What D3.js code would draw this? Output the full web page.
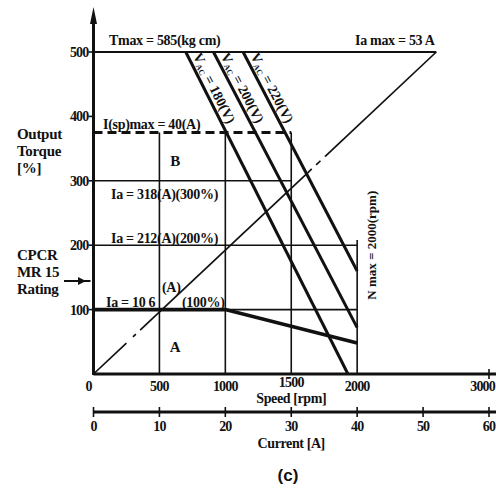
<!DOCTYPE html>
<html><head><meta charset="utf-8">
<script src="https://cdn.jsdelivr.net/npm/d3@7"></script>
<style>
html,body{margin:0;padding:0;background:#fff;}
svg text{font-family:"Liberation Serif","DejaVu Serif",serif;font-weight:bold;fill:#111;}
</style></head>
<body>
<div id="chart"></div>
<script>
// ---- data ----
const speedTicks = [0, 500, 1000, 1500, 2000, 3000];
const speedTickLabels = ["0", "500", "1000", "1500", "2000", "3000"];
const currentTicks = [0, 10, 20, 30, 40, 50, 60];
const torqueTicks = [100, 200, 300, 400, 500];
const currentMax = 52;          // apex of torque-current line
const torqueMax = 500;
const spMaxTorque = 375;        // I(sp)max = 40 A
const ratedCurve = [[0, 100], [1000, 100], [2000, 48]];
const vac180 = [[700, 500], [1930, 0]];
const vac200 = [[910, 500], [2000, 72]];
const vac220 = [[1135, 500], [2000, 160]];
const gridH = [[300, 0, 1500], [200, 0, 2000], [100, 1000, 2000]];
const gridV = [[500, 375], [1000, 375], [1500, 375], [2000, 208]];
// diagonal (torque vs current) segments: [fromTorque, toTorque, style]
const diagSegs = [[0, 48, "solid"], [48, 68, "dashdot"], [68, 312, "solid"], [312, 338, "dash"], [338, 500, "solid"]];
const voltLabels = ["180", "200", "220"];

// ---- chart ----
const W = 496, H = 488;
const svg = d3.select("#chart").append("svg").attr("width", W).attr("height", H);
const x = d3.scaleLinear().domain([0, 3000]).range([93.5, 489]);
const xc = d3.scaleLinear().domain([0, 60]).range([93.5, 489]);
const y = d3.scaleLinear().domain([0, 500]).range([374, 52]);
const line = d3.line().x(d => x(d[0])).y(d => y(d[1]));
const ink = "#111";

// grid lines
gridH.forEach(g => svg.append("line").attr("x1", x(g[1])).attr("x2", x(g[2])).attr("y1", y(g[0])).attr("y2", y(g[0]))
  .attr("stroke", ink).attr("stroke-width", 1.6));
gridV.forEach(g => svg.append("line").attr("x1", x(g[0])).attr("x2", x(g[0])).attr("y1", y(0)).attr("y2", y(g[1]))
  .attr("stroke", ink).attr("stroke-width", 1.6));

// top Tmax line
svg.append("line").attr("x1", x(0)).attr("x2", xc(currentMax)).attr("y1", y(torqueMax)).attr("y2", y(torqueMax))
  .attr("stroke", ink).attr("stroke-width", 2.2);

// dashed I(sp)max line
svg.append("line").attr("x1", x(0)).attr("x2", x(1500)).attr("y1", y(spMaxTorque)).attr("y2", y(spMaxTorque))
  .attr("stroke", ink).attr("stroke-width", 2.8).attr("stroke-dasharray", "9,5");

// diagonal torque-current line
const tToC = t => t / torqueMax * currentMax;
diagSegs.forEach(s => {
  const p = svg.append("line").attr("x1", xc(tToC(s[0]))).attr("y1", y(s[0])).attr("x2", xc(tToC(s[1]))).attr("y2", y(s[1]))
    .attr("stroke", ink).attr("stroke-width", 1.7);
  if (s[2] === "dash") p.attr("stroke-dasharray", "6,6");
  if (s[2] === "dashdot") p.attr("stroke-dasharray", "0,9,4,9");
});

// rated curve
svg.append("path").attr("d", line(ratedCurve)).attr("fill", "none").attr("stroke", ink).attr("stroke-width", 3.6);

// voltage lines
[vac180, vac200, vac220].forEach((v, i) => {
  svg.append("path").attr("d", line(v)).attr("fill", "none").attr("stroke", ink).attr("stroke-width", 3);
  const dx = x(v[1][0]) - x(v[0][0]), dy = y(v[1][1]) - y(v[0][1]);
  const ang = Math.atan2(dy, dx) * 180 / Math.PI;
  const t0 = 494;
  const f = (v[0][1] - t0) / (v[0][1] - v[1][1]);
  const px = x(v[0][0]) + f * dx + 5, py = y(t0);
  const t = svg.append("text").attr("transform", `translate(${px},${py}) rotate(${ang})`).attr("font-size", 14);
  t.append("tspan").text("V");
  t.append("tspan").attr("font-size", 8).attr("dy", 2).text("AC");
  t.append("tspan").attr("dy", -2).text(" = " + voltLabels[i] + "(V)");
});

// y axis with arrow
svg.append("line").attr("x1", x(0)).attr("x2", x(0)).attr("y1", y(0) + 1).attr("y2", 14)
  .attr("stroke", ink).attr("stroke-width", 3);
svg.append("path").attr("d", `M${x(0)},7 L${x(0) - 3.5},24 L${x(0) + 3.5},24 Z`).attr("fill", ink);
torqueTicks.forEach(t => {
  svg.append("line").attr("x1", x(0) - 5).attr("x2", x(0)).attr("y1", y(t)).attr("y2", y(t)).attr("stroke", ink).attr("stroke-width", 1.6);
  svg.append("text").attr("x", x(0) - 5).attr("y", y(t) + 5).attr("text-anchor", "end").attr("font-size", 14).attr("letter-spacing", -0.8).text(t);
});

// speed axis
svg.append("line").attr("x1", x(0)).attr("x2", W).attr("y1", y(0)).attr("y2", y(0)).attr("stroke", ink).attr("stroke-width", 3);
svg.append("line").attr("x1", x(3000)).attr("x2", x(3000)).attr("y1", y(0) - 5).attr("y2", y(0) + 5).attr("stroke", ink).attr("stroke-width", 1.6);
speedTicks.forEach((s, i) => {
  const last = s === 3000;
  svg.append("text").attr("x", last ? W - 1 : x(s) - (s === 0 ? 5 : 0)).attr("y", y(0) + (s === 1500 ? 13 : 17))
    .attr("text-anchor", last ? "end" : "middle").attr("font-size", 14).attr("letter-spacing", -0.8).text(speedTickLabels[i]);
});
svg.append("text").attr("x", x(1500)).attr("y", 403).attr("text-anchor", "middle").attr("font-size", 14).attr("letter-spacing", -0.4).text("Speed [rpm]");

// current axis
const cy = 412;
svg.append("line").attr("x1", xc(0)).attr("x2", W).attr("y1", cy).attr("y2", cy).attr("stroke", ink).attr("stroke-width", 3);
currentTicks.forEach(c => {
  svg.append("line").attr("x1", xc(c)).attr("x2", xc(c)).attr("y1", cy - 5).attr("y2", cy + 5).attr("stroke", ink).attr("stroke-width", 1.6);
  svg.append("text").attr("x", xc(c)).attr("y", cy + 19).attr("text-anchor", "middle").attr("font-size", 14).attr("letter-spacing", -0.8).text(c);
});
svg.append("text").attr("x", xc(30)).attr("y", 448).attr("text-anchor", "middle").attr("font-size", 14).attr("letter-spacing", -0.4).text("Current [A]");

// caption
svg.append("text").attr("x", 288).attr("y", 481).attr("text-anchor", "middle").attr("font-size", 17)
  .style("font-family", "'Liberation Sans', Arial, sans-serif").text("(c)");

// left labels
[["Output", 139], ["Torque", 156], ["[%]", 173], ["CPCR", 260], ["MR 15", 277], ["Rating", 294]].forEach(l =>
  svg.append("text").attr("x", 17).attr("y", l[1]).attr("font-size", 15).attr("letter-spacing", -0.3).text(l[0]));
svg.append("line").attr("x1", 64).attr("x2", x(0) - 3).attr("y1", 281).attr("y2", 281).attr("stroke", ink).attr("stroke-width", 2);
svg.append("path").attr("d", "M86,281 L78,277 L78,285 Z").attr("fill", ink);

// annotations
const ann = [
  ["Tmax = 585(kg cm)", 109, 45],
  ["Ia max = 53 A", 355, 45],
  ["I(sp)max = 40(A)", 103, 129],
  ["Ia = 318(A)(300%)", 111, 199],
  ["Ia = 212(A)(200%)", 111, 243],
  ["Ia = 10 6", 106, 307],
  ["(A)", 162, 292],
  ["(100%)", 182, 307]
];
ann.forEach(a => svg.append("text").attr("x", a[1]).attr("y", a[2]).attr("font-size", 14).attr("letter-spacing", -0.3).text(a[0]));
svg.append("text").attr("x", x(620)).attr("y", y(330) + 5).attr("text-anchor", "middle").attr("font-size", 15).text("B");
svg.append("text").attr("x", x(620)).attr("y", y(42) + 5).attr("text-anchor", "middle").attr("font-size", 15).text("A");
svg.append("text").attr("transform", `translate(${x(2000) + 19},${y(200)}) rotate(-90)`).attr("text-anchor", "middle")
  .attr("font-size", 13).text("N max = 2000(rpm)");
</script>
</body></html>
